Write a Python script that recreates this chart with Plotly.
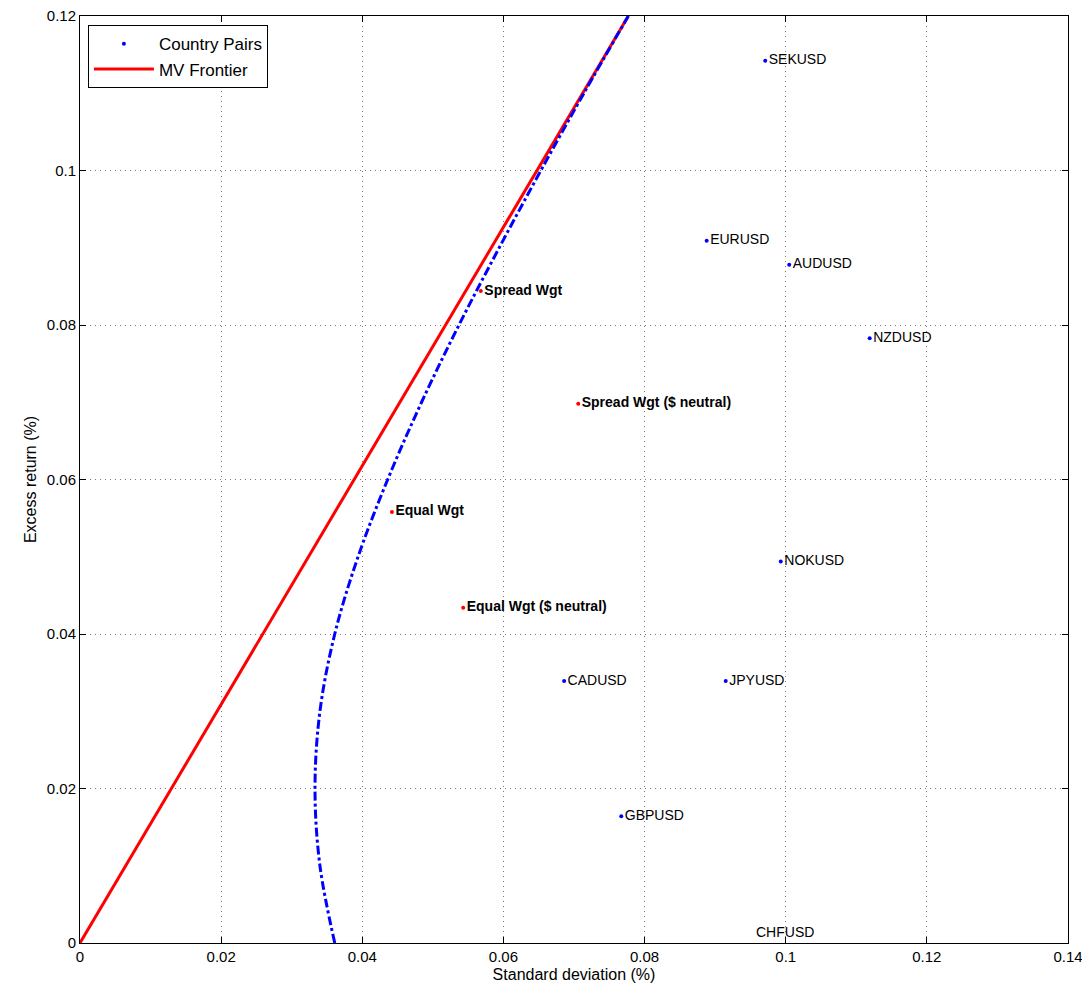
import plotly.graph_objects as go

pairs = ["SEKUSD", "EURUSD", "AUDUSD", "NZDUSD", "NOKUSD", "JPYUSD", "CADUSD", "GBPUSD"]
pair_sd = [0.0971, 0.0888, 0.1005, 0.1119, 0.0993, 0.0915, 0.0686, 0.0767]
pair_ret = [0.1142, 0.0909, 0.0878, 0.0783, 0.0494, 0.0339, 0.0339, 0.0164]

chf_sd = 0.0999
chf_ret = 0.0014

ports = ["Spread Wgt", "Spread Wgt ($ neutral)", "Equal Wgt", "Equal Wgt ($ neutral)"]
port_sd = [0.0568, 0.0706, 0.0442, 0.0543]
port_ret = [0.0844, 0.0698, 0.0558, 0.0434]

cml_sd = [0.0, 0.0777]
cml_ret = [0.0, 0.12]

front_sd = [0.0361, 0.0340, 0.0333, 0.0340, 0.0361, 0.0394, 0.0436, 0.0484, 0.0537, 0.0594, 0.0653, 0.0714, 0.0777]
front_ret = [0.0, 0.01, 0.02, 0.03, 0.04, 0.05, 0.06, 0.07, 0.08, 0.09, 0.10, 0.11, 0.12]

fig = go.Figure()

fig.add_trace(go.Scatter(
    x=pair_sd, y=pair_ret, mode="markers+text", name="Country Pairs",
    text=pairs, textposition="middle right",
    marker=dict(color="blue", size=4),
    textfont=dict(size=14, color="black")
))

fig.add_trace(go.Scatter(
    x=cml_sd, y=cml_ret, mode="lines", name="MV Frontier",
    line=dict(color="red", width=3)
))

fig.add_trace(go.Scatter(
    x=front_sd, y=front_ret, mode="lines", showlegend=False,
    line=dict(color="blue", width=3, dash="dashdot", shape="spline")
))

fig.add_trace(go.Scatter(
    x=port_sd, y=port_ret, mode="markers+text", showlegend=False,
    text=["<b>" + p + "</b>" for p in ports], textposition="middle right",
    marker=dict(color="red", size=4),
    textfont=dict(size=14, color="black")
))

fig.add_annotation(x=chf_sd, y=chf_ret, text="CHFUSD", showarrow=False,
                   font=dict(size=14, color="black"))

axis_common = dict(
    showline=True, linecolor="black", linewidth=1, mirror="ticks",
    ticks="inside", ticklen=6, tickcolor="black",
    showgrid=True, gridcolor="#777", griddash="1px,4px", gridwidth=1,
    zeroline=False, tickfont=dict(size=15, color="black"), automargin=False,
    ticklabeloverflow="allow",
)

fig.update_xaxes(range=[0, 0.140001], tickvals=[0, 0.02, 0.04, 0.06, 0.08, 0.1, 0.12, 0.14],
                 ticktext=["0", "0.02", "0.04", "0.06", "0.08", "0.1", "0.12", "0.14"],
                 title=dict(text="Standard deviation (%)", font=dict(size=16), standoff=4),
                 **axis_common)
fig.update_yaxes(range=[0, 0.120001], tickvals=[0, 0.02, 0.04, 0.06, 0.08, 0.1, 0.12],
                 ticktext=["0", "0.02", "0.04", "0.06", "0.08", "0.1", "0.12"],
                 title=dict(text="Excess return (%)", font=dict(size=16), standoff=6),
                 **axis_common)

fig.update_layout(
    width=1082, height=986,
    margin=dict(l=72, r=22, t=8, b=51),
    plot_bgcolor="white", paper_bgcolor="white",
    font=dict(family="Liberation Sans, Arial, sans-serif", color="black"),
    legend=dict(x=0.008, y=0.99, xanchor="left", yanchor="top",
                bgcolor="white", bordercolor="black", borderwidth=1,
                font=dict(size=17), itemwidth=60, tracegroupgap=0),
)

fig.write_html("out.html")
